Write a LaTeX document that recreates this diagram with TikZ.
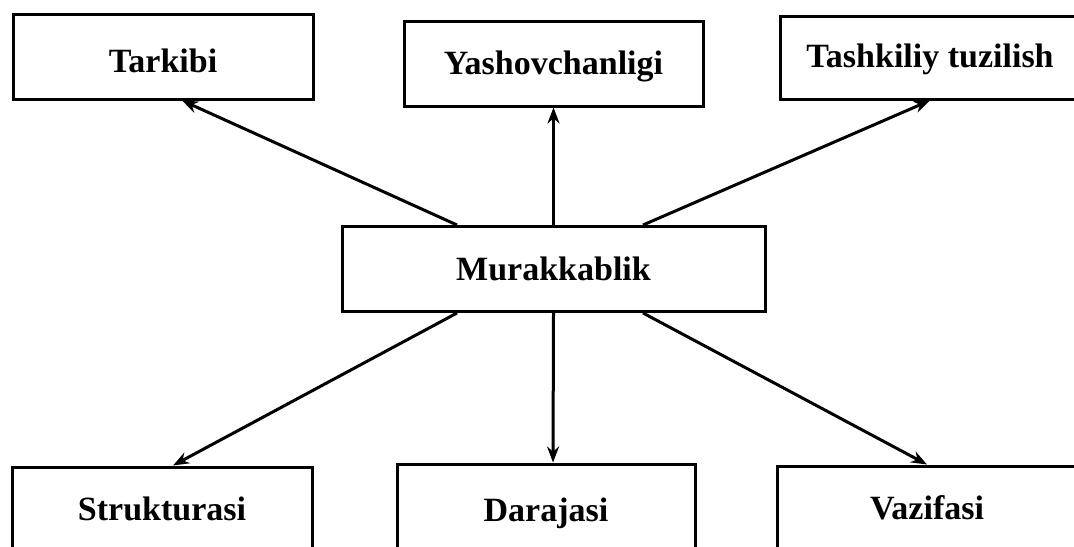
\documentclass[tikz,border=0pt]{standalone}
\usepackage{fontspec}
\setmainfont{Liberation Serif}
\usetikzlibrary{arrows.meta}
\tikzset{>={Stealth[length=8pt,width=6pt]}}
\colorlet{penColor}{black}
\tikzset{blok/.style={draw=penColor, line width=1.5pt, inner sep=0pt,
    minimum height=42.5pt, text height=13pt, text depth=2pt,
    font=\bfseries\fontsize{17}{20}\selectfont}}
\begin{document}
\begin{tikzpicture}[x=0.5pt,y=-0.5pt]
				\clip (0,0) rectangle (1074,546);
				% yuqori qator
				\node [blok, minimum width=150pt, text height=17.5pt] (tarkibi) at (163,56.5) {Tarkibi};
				\node [blok, minimum width=149.5pt] (yashov) at (553.5,63.5) {Yashovchanligi};
				\node [blok, minimum width=150pt, minimum height=41.5pt, text height=12pt] (tashkil) at (930,57.5) {Tashkiliy tuzilish};
				% markaz
				\node [blok, minimum width=211.5pt] (murak) at (553.5,269) {Murakkablik};
				% pastki qator
				\node [blok, minimum width=150pt] (struktura) at (162,509.5) {Strukturasi};
				\node [blok, minimum width=149pt, text height=17pt] (daraja) at (546,506.5) {Darajasi};
				\node [blok, minimum width=150pt] (vazifa) at (927,508.5) {Vazifasi};
				% strelkalar
				\draw[->,penColor, line width=1.5pt] ([xshift=-48.25pt]murak.north) -- ([xshift=9.5pt]tarkibi.south);
				\draw[->,penColor, line width=1.5pt] (murak.north) -- (yashov.south);
				\draw[->,penColor, line width=1.5pt] ([xshift=44.75pt]murak.north) -- (tashkil.south);
				\draw[->,penColor, line width=1.5pt] ([xshift=-48.25pt]murak.south) -- ([xshift=5.5pt]struktura.north);
				\draw[->,penColor, line width=1.5pt] (murak.south) -- ([xshift=3.5pt]daraja.north);
				\draw[->,penColor, line width=1.5pt] ([xshift=44.75pt]murak.south) -- (vazifa.north);
\end{tikzpicture}
\end{document}
